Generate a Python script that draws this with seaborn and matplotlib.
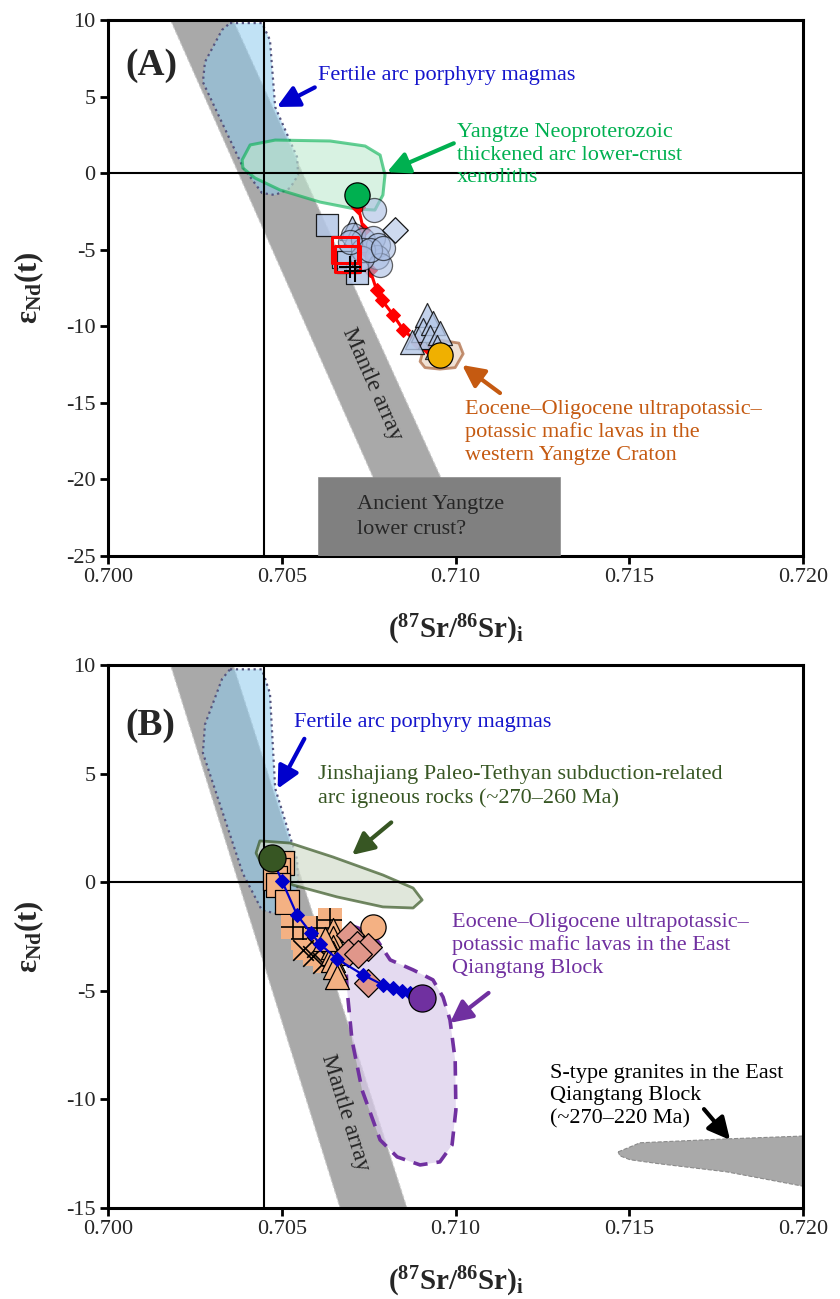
import numpy as np
import pandas as pd
import matplotlib
matplotlib.use("Agg")
import matplotlib.pyplot as plt
import seaborn as sns
from matplotlib.patches import Polygon, Rectangle

sns.set_theme(style="white")
plt.rcParams['font.family'] = ['Liberation Serif', 'DejaVu Serif']
plt.rcParams['mathtext.fontset'] = 'custom'
plt.rcParams['mathtext.rm'] = 'Liberation Serif'
plt.rcParams['mathtext.bf'] = 'Liberation Serif:bold'
plt.rcParams['mathtext.it'] = 'Liberation Serif:italic'

# ---------------- data ----------------
x_ticks = [0.700, 0.705, 0.710, 0.715, 0.720]
x_tick_labels = ["0.700", "0.705", "0.710", "0.715", "0.720"]
yA_ticks = [10, 5, 0, -5, -10, -15, -20, -25]
yB_ticks = [10, 5, 0, -5, -10, -15]
bulk_sr = 0.7045

mantle_x = [0.7018, 0.7036, 0.7106, 0.70863]
mantle_y = [10, 10, -25, -25]

fertile_x = [0.70351, 0.70443, 0.70466, 0.70481, 0.70544, 0.70547, 0.70524,
             0.70481, 0.70443, 0.70388, 0.70273, 0.70279, 0.70328]
fertile_y = [9.80, 9.80, 8.69, 4.32, 1.05, -0.12, -0.97, -1.43, -1.30, 0.40,
             5.95, 7.26, 9.35]

# Panel A
yangtze_x = [0.70386, 0.70409, 0.70481, 0.70639, 0.70740, 0.70783, 0.70797,
             0.70791, 0.70768, 0.70711, 0.70610, 0.70495, 0.70423, 0.70388]
yangtze_y = [0.86, 1.84, 2.16, 2.10, 1.77, 1.18, -0.12, -1.43, -2.41, -2.34,
             -1.89, -1.10, -0.32, 0.33]
wyc_x = [0.70898, 0.70912, 0.70955, 0.71010, 0.71022, 0.70999, 0.70955, 0.70912]
wyc_y = [-12.30, -11.20, -10.90, -11.10, -11.80, -12.70, -12.80, -12.70]
ancient_x = [0.70604, 0.71301]
ancient_y = [-19.85, -25.0]

mixA_x = [0.70717, 0.70720, 0.70735, 0.70740, 0.70754, 0.70773, 0.70788,
          0.70821, 0.70850, 0.70888, 0.70927, 0.70955]
mixA_y = [-1.43, -2.19, -3.72, -5.02, -6.33, -7.64, -8.29, -9.27, -10.25,
          -11.00, -11.55, -11.88]

A_circ_x = [0.70706, 0.70735, 0.70763, 0.70778, 0.70773, 0.70735, 0.70783,
            0.70730, 0.70696, 0.70754, 0.70792, 0.70765]
A_circ_y = [-4.04, -4.37, -4.26, -4.70, -5.46, -5.02, -6.00, -5.57, -4.48,
            -5.02, -4.91, -2.41]
A_tri_x = [0.70888, 0.70917, 0.70907, 0.70936, 0.70927, 0.70955, 0.70946,
           0.70874, 0.70701, 0.70712]
A_tri_y = [-10.69, -9.27, -10.25, -9.81, -10.69, -10.47, -11.34, -11.00,
           -3.61, -4.00]
A_sq_x = [0.70629, 0.70677, 0.70716, 0.70690]
A_sq_y = [-3.39, -5.46, -6.55, -5.80]
A_dia_x = [0.70826]
A_dia_y = [-3.72]
A_red_sq_x = [0.70682, 0.70690]
A_red_sq_y = [-5.02, -5.60]
A_plus_x = [0.70696, 0.70712]
A_plus_y = [-6.11, -6.40]
A_end_x = [0.70717, 0.70955]
A_end_y = [-1.43, -11.88]

# Panel B
jinsha_x = [0.70437, 0.70524, 0.70647, 0.70791, 0.70878, 0.70904, 0.70878,
            0.70791, 0.70659, 0.70532, 0.70446, 0.70426]
jinsha_y = [1.90, 1.80, 1.16, 0.33, -0.27, -0.82, -1.19, -1.14, -0.68, -0.13,
            0.70, 1.34]
eqb_x = [0.70696, 0.70734, 0.70774, 0.70812, 0.70878, 0.70935, 0.70964,
         0.70984, 0.70999, 0.71001, 0.70990, 0.70955, 0.70898, 0.70832,
         0.70783, 0.70731, 0.70702, 0.70688, 0.70682, 0.70685]
eqb_y = [-1.97, -2.20, -2.66, -3.58, -4.04, -4.50, -5.29, -6.34, -8.19,
         -10.49, -12.10, -12.88, -13.02, -12.65, -11.87, -9.57, -7.27, -4.96,
         -3.12, -2.29]
stype_x = [0.71468, 0.71531, 0.71781, 0.72000, 0.72000, 0.71781, 0.71588,
           0.71502, 0.71473]
stype_y = [-12.42, -12.00, -11.82, -11.69, -14.00, -13.34, -12.97, -12.78,
           -12.60]

mixB_x = [0.70472, 0.70501, 0.70544, 0.70584, 0.70610, 0.70660, 0.70734,
          0.70791, 0.70820, 0.70846, 0.70870, 0.70904]
mixB_y = [1.11, 0.04, -1.51, -2.34, -2.85, -3.55, -4.27, -4.73, -4.87, -5.01,
          -5.10, -5.33]
B_sq_x = [0.70500, 0.70489, 0.70481, 0.70489, 0.70515]
B_sq_y = [0.90, 0.56, 0.19, -0.13, -0.91]
B_plus_x = [0.70532, 0.70639, 0.70560, 0.70600]
B_plus_y = [-2.06, -1.74, -2.60, -2.10]
B_x_x = [0.70561, 0.70601, 0.70619, 0.70590]
B_x_y = [-3.12, -2.98, -3.72, -3.40]
B_tri_x = [0.70647, 0.70647, 0.70647, 0.70647, 0.70647, 0.70652, 0.70660,
           0.70625]
B_tri_y = [-2.20, -2.57, -2.98, -3.26, -3.58, -3.90, -4.36, -2.60]
B_circ_x = [0.70763]
B_circ_y = [-2.06]
B_dia_x = [0.70696, 0.70716, 0.70691, 0.70748, 0.70748, 0.70720]
B_dia_y = [-2.43, -2.89, -3.26, -2.98, -4.64, -3.30]
B_end_x = [0.70472, 0.70904]
B_end_y = [1.11, -5.33]

# ---------------- figure ----------------
fig = plt.figure(figsize=(8.4, 12.99), dpi=100)
axA = fig.add_axes([0.1286, 0.5720, 0.8274, 0.4126])
axB = fig.add_axes([0.1286, 0.0701, 0.8274, 0.4180])

EDGE = 'black'
LB = '#b4c7e7'


def style_axis(ax, yticks, ylim):
    ax.set_xlim(0.700, 0.720)
    ax.set_ylim(*ylim)
    ax.set_xticks(x_ticks)
    ax.set_xticklabels(x_tick_labels)
    ax.set_yticks(yticks)
    ax.set_yticklabels([str(t) for t in yticks])
    for s in ax.spines.values():
        s.set_color('black')
        s.set_linewidth(2.2)
    ax.tick_params(axis='both', direction='out', length=6, width=2,
                   color='black', labelsize=16, left=True, bottom=True,
                   pad=3)
    ax.axhline(0, color='black', lw=1.5, zorder=3)
    ax.axvline(bulk_sr, color='black', lw=1.5, zorder=3)
    ax.set_xlabel(r'($\mathbf{^{87}}$Sr/$\mathbf{^{86}}$Sr)$\mathbf{_{i}}$',
                  fontsize=21, fontweight='bold', labelpad=18)
    ax.set_ylabel(r'ε$\mathbf{_{Nd}}$(t)', fontsize=22, fontweight='bold',
                  labelpad=14)
    ax.grid(False)


def band_angle(ax):
    p0 = ax.transData.transform((mantle_x[0], mantle_y[0]))
    p1 = ax.transData.transform((mantle_x[3], mantle_y[3]))
    return np.degrees(np.arctan2(p1[1] - p0[1], p1[0] - p0[0]))


def draw_common(ax):
    ax.add_patch(Polygon(np.column_stack([mantle_x, mantle_y]), closed=True,
                         facecolor='#a9a9a9', edgecolor='#c8c8c8', lw=0.8,
                         ls='--', zorder=1))
    ax.add_patch(Polygon(np.column_stack([fertile_x, fertile_y]), closed=True,
                         facecolor='#8fcbee', alpha=0.55, edgecolor='none',
                         zorder=2, joinstyle='round'))
    ax.add_patch(Polygon(np.column_stack([fertile_x, fertile_y]), closed=True,
                         facecolor='none', edgecolor='#55557f', lw=1.6,
                         ls=':', zorder=2.1, joinstyle='round'))


def sc(ax, x, y, marker, size, color, edge=EDGE, lw=0.9, alpha=1.0, z=5):
    df = pd.DataFrame({'x': x, 'y': y})
    sns.scatterplot(data=df, x='x', y='y', ax=ax, marker=marker, s=size,
                    color=color, edgecolor=edge, linewidth=lw, alpha=alpha,
                    zorder=z, legend=False)


def arrow(ax, head, tail, color):
    ax.annotate('', xy=head, xytext=tail, zorder=8,
                arrowprops=dict(arrowstyle='-|>,head_length=1.1,head_width=0.55',
                                lw=3, color=color, shrinkA=0, shrinkB=0))


# ---------- Panel A ----------
style_axis(axA, yA_ticks, (-25, 10))
draw_common(axA)
axA.add_patch(Polygon(np.column_stack([yangtze_x, yangtze_y]), closed=True,
                      facecolor='#bfead0', alpha=0.6, edgecolor='#00b050',
                      lw=2.2, zorder=2.5, joinstyle='round'))
axA.add_patch(Rectangle((ancient_x[0], ancient_y[1]),
                        ancient_x[1] - ancient_x[0],
                        ancient_y[0] - ancient_y[1], facecolor='#808080',
                        edgecolor='#8c8c8c', lw=0.5, zorder=2.6))
axA.add_patch(Polygon(np.column_stack([wyc_x, wyc_y]), closed=True,
                      facecolor='#e6cdb8', alpha=0.6, edgecolor='#9c4a1a',
                      lw=2.0, zorder=2.5, joinstyle='round'))

sns.lineplot(x=mixA_x, y=mixA_y, ax=axA, sort=False, estimator=None,
             color='#ff0000', lw=2.2, marker='D', markersize=7,
             markeredgecolor='#ff0000', zorder=4)
sc(axA, A_sq_x, A_sq_y, 's', 260, LB, alpha=0.85)
sc(axA, A_tri_x, A_tri_y, '^', 300, LB, alpha=0.8)
sc(axA, A_circ_x, A_circ_y, 'o', 300, '#a9bde3', alpha=0.6)
sc(axA, A_dia_x, A_dia_y, 'D', 170, '#c9d6ee', alpha=0.9)
sc(axA, A_red_sq_x, A_red_sq_y, 's', 330, 'none', edge='#ff0000', lw=2.2, z=6)
sc(axA, A_plus_x, A_plus_y, '+', 260, 'black', edge='black', lw=1.5, z=6)
sc(axA, A_end_x[:1], A_end_y[:1], 'o', 330, '#00b050', z=7)
sc(axA, A_end_x[1:], A_end_y[1:], 'o', 330, '#f0b000', z=7)

axA.text(0.70049, 7.06, '(A)', fontsize=27, fontweight='bold', ha='left',
         va='center', zorder=8)
axA.text(0.70717, -22.46, 'Ancient Yangtze\nlower crust?', fontsize=16,
         ha='left', va='center', linespacing=1.45, zorder=8)
axA.text(0.7076, -13.8, 'Mantle array', fontsize=17, ha='center',
         va='center', rotation=band_angle(axA), rotation_mode='anchor',
         zorder=3)

arrow(axA, (0.70486, 4.32), (0.70595, 5.6), '#0000cc')
axA.text(0.70604, 6.4, 'Fertile arc porphyry magmas', color='#1515cc',
         fontsize=16, ha='left', va='center')
arrow(axA, (0.70803, 0.07), (0.70995, 1.95), '#00b050')
axA.text(0.71004, 1.18, 'Yangtze Neoproterozoic\nthickened arc lower-crust\nxenoliths',
         color='#00b050', fontsize=16, ha='left', va='center',
         linespacing=1.25)
arrow(axA, (0.71019, -12.53), (0.71128, -14.36), '#c55a11')
axA.text(0.71027, -16.91,
         'Eocene–Oligocene ultrapotassic–\npotassic mafic lavas in the\nwestern Yangtze Craton',
         color='#c55a11', fontsize=16, ha='left', va='center',
         linespacing=1.25)

# ---------- Panel B ----------
style_axis(axB, yB_ticks, (-15, 10))
draw_common(axB)
axB.add_patch(Polygon(np.column_stack([jinsha_x, jinsha_y]), closed=True,
                      facecolor='#d3ddcc', alpha=0.7, edgecolor='#375623',
                      lw=2.0, zorder=2.5, joinstyle='round'))
axB.add_patch(Polygon(np.column_stack([eqb_x, eqb_y]), closed=True,
                      facecolor='#d9cbea', alpha=0.7, edgecolor='none',
                      zorder=2.5, joinstyle='round'))
axB.add_patch(Polygon(np.column_stack([eqb_x, eqb_y]), closed=True,
                      facecolor='none', edgecolor='#7030a0', lw=2.6,
                      ls=(0, (4, 2.5)), zorder=2.6, joinstyle='round'))
axB.add_patch(Polygon(np.column_stack([stype_x, stype_y]), closed=True,
                      facecolor='#a9a9a9', edgecolor='#8a8a8a', lw=0.8,
                      ls='--', zorder=2.5, clip_on=True))

PEACH = '#f4b183'
sns.lineplot(x=mixB_x, y=mixB_y, ax=axB, sort=False, estimator=None,
             color='#0000cc', lw=1.6, marker='D', markersize=7,
             markeredgecolor='#0000cc', zorder=6)
sc(axB, B_sq_x, B_sq_y, 's', 280, PEACH, z=5)
sc(axB, B_plus_x, B_plus_y, 's', 280, PEACH, edge='none', z=5)
sc(axB, B_plus_x, B_plus_y, '+', 280, 'black', edge='black', lw=1.2, z=5)
sc(axB, B_x_x, B_x_y, 's', 220, PEACH, edge='none', z=5)
sc(axB, B_x_x, B_x_y, 'x', 220, 'black', edge='black', lw=1.2, z=5)
sc(axB, B_tri_x, B_tri_y, '^', 300, PEACH, z=5)
sc(axB, B_circ_x, B_circ_y, 'o', 330, PEACH, z=5)
sc(axB, B_dia_x, B_dia_y, 'D', 200, '#e0968a', z=5)
sc(axB, B_end_x[:1], B_end_y[:1], 'o', 380, '#375623', z=7)
sc(axB, B_end_x[1:], B_end_y[1:], 'o', 380, '#7030a0', z=7)

axB.text(0.70049, 7.2, '(B)', fontsize=27, fontweight='bold', ha='left',
         va='center', zorder=8)
axB.text(0.70682, -10.6, 'Mantle array', fontsize=17, ha='center',
         va='center', rotation=band_angle(axB), rotation_mode='anchor',
         zorder=3)
arrow(axB, (0.70488, 4.3), (0.70565, 6.6), '#0000cc')
axB.text(0.70535, 7.33, 'Fertile arc porphyry magmas', color='#1515cc',
         fontsize=16, ha='left', va='center')
arrow(axB, (0.70702, 1.25), (0.70815, 2.75), '#375623')
axB.text(0.70604, 4.4,
         'Jinshajiang Paleo-Tethyan subduction-related\narc igneous rocks (~270–260 Ma)',
         color='#375623', fontsize=16, ha='left', va='center',
         linespacing=1.25)
arrow(axB, (0.70984, -6.48), (0.71095, -5.10), '#7030a0')
axB.text(0.70990, -2.9,
         'Eocene–Oligocene ultrapotassic–\npotassic mafic lavas in the East\nQiangtang Block',
         color='#7030a0', fontsize=16, ha='left', va='center',
         linespacing=1.25)
arrow(axB, (0.71790, -11.87), (0.71715, -10.45), 'black')
axB.text(0.71272, -9.85,
         'S-type granites in the East\nQiangtang Block\n(~270–220 Ma)',
         color='black', fontsize=16, ha='left', va='center',
         linespacing=1.25)

fig.savefig('out.png', dpi=100)
